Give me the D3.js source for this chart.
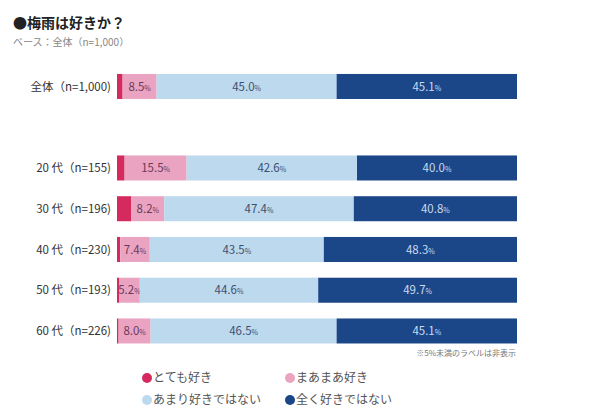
<!DOCTYPE html>
<html><head><meta charset="utf-8">
<script src="https://cdn.jsdelivr.net/npm/d3@7"></script>
<style>
html,body{margin:0;padding:0;background:#fff;}
svg{display:block;font-family:"Noto Sans CJK JP","Noto Sans",sans-serif;}
</style></head>
<body><svg id="c" width="600" height="414"></svg>
<script>
const categories = ["全体（n=1,000)", "", "20 代（n=155)", "30 代（n=196)", "40 代（n=230)", "50 代（n=193)", "60 代（n=226)"];
const seriesNames = ["とても好き", "まあまあ好き", "あまり好きではない", "全く好きではない"];
const veryLike    = [1.4, null, 1.9, 3.6, 0.8, 0.5, 0.4];
const somewhatLike= [8.5, null, 15.5, 8.2, 7.4, 5.2, 8.0];
const notMuch     = [45.0, null, 42.6, 47.4, 43.5, 44.6, 46.5];
const notAtAll    = [45.1, null, 40.0, 40.8, 48.3, 49.7, 45.1];
const colors = ["#d42a5e", "#eaa4c2", "#bdd9ee", "#1b4687"];
const labelColors = [null, "#6a3a58", "#3f4f6e", "#c9dbf2"];

const svg = d3.select("#c");
const series = [veryLike, somewhatLike, notMuch, notAtAll];

const x = d3.scaleLinear().domain([0, 100]).range([117, 517]);
const y = d3.scaleBand().domain(d3.range(categories.length)).range([66.1, 351.35]).paddingInner(0.386).paddingOuter(0.193);

// title
svg.append("text").attr("x", 13).attr("y", 28).attr("font-size", 14).attr("font-weight", "bold").attr("fill", "#222").text("●梅雨は好きか？");
svg.append("text").attr("x", 13).attr("y", 46).attr("font-size", 10).attr("fill", "#888").text("ベース：全体（n=1,000）");

// rows
categories.forEach((cat, i) => {
  if (veryLike[i] == null) return;
  const g = svg.append("g");
  g.append("text").attr("x", 111).attr("y", y(i) + y.bandwidth()/2).attr("dy", "0.36em")
    .attr("text-anchor", "end").attr("font-size", 11.5).attr("fill", "#333").text(cat);
  let cum = 0;
  series.forEach((s, k) => {
    const v = s[i];
    const x0 = x(cum), x1 = x(cum + v);
    g.append("rect").attr("x", x0).attr("y", y(i)).attr("width", x1 - x0).attr("height", y.bandwidth()).attr("fill", colors[k]);
    if (v >= 5) {
      const t = g.append("text").attr("x", (x0 + x1)/2).attr("y", y(i) + y.bandwidth()/2).attr("dy", "0.36em")
        .attr("text-anchor", "middle").attr("fill", labelColors[k]).attr("font-size", 11.5);
      t.append("tspan").text(v.toFixed(1));
      t.append("tspan").attr("font-size", 7).text("%");
    }
    cum += v;
  });
});

svg.append("text").attr("x", 516).attr("y", 356).attr("text-anchor", "end").attr("font-size", 8).attr("fill", "#777").text("※5%未満のラベルは非表示");

// legend
const legPos = [[147, 378], [290, 378], [147, 400], [290, 400]];
seriesNames.forEach((n, k) => {
  const [lx, ly] = legPos[k];
  svg.append("circle").attr("cx", lx).attr("cy", ly).attr("r", 5).attr("fill", colors[k]);
  svg.append("text").attr("x", lx + 6).attr("y", ly).attr("dy", "0.36em").attr("font-size", 12).attr("fill", "#555").text(n);
});
</script></body></html>
